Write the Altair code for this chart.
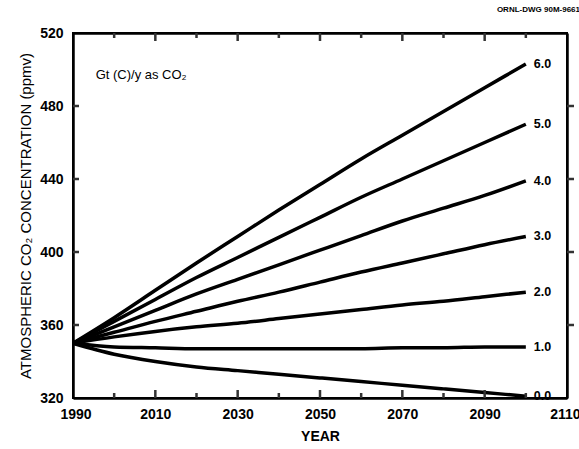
import altair as alt
import pandas as pd

years = [1990, 2000, 2010, 2020, 2030, 2040, 2050, 2060, 2070, 2080, 2090, 2100]
rates = ["6.0", "5.0", "4.0", "3.0", "2.0", "1.0", "0.0"]
co2_6 = [350, 364, 379, 394, 408.5, 423, 437, 451, 464, 477, 490, 503]
co2_5 = [350, 362, 374, 386, 397, 408, 419, 430, 440, 450, 460, 470]
co2_4 = [350, 359, 368, 377, 385, 393, 401, 409, 417, 424, 431, 439]
co2_3 = [350, 356, 362, 367.5, 373, 378, 383.5, 389, 394, 399, 404, 408.5]
co2_2 = [350, 353.5, 356.5, 359, 361, 363.5, 366, 368.5, 371, 373, 375.5, 378]
co2_1 = [350, 348, 347.5, 347, 347, 347, 347, 347, 347.5, 347.5, 348, 348]
co2_0 = [350, 344, 340, 337, 335, 333, 331, 329, 327, 325, 323, 321]
series = [co2_6, co2_5, co2_4, co2_3, co2_2, co2_1, co2_0]

x_label_values = [1990, 2010, 2030, 2050, 2070, 2090, 2110]
y_label_values = [320, 360, 400, 440, 480, 520]
x_major_ticks = [2010, 2030, 2050, 2070, 2090]
x_minor_ticks = [2000, 2020, 2040, 2060, 2080, 2100]
y_ticks = [360, 400, 440, 480]

note_year = [1995.5]
note_value = [497]
note_text = ["Gt (C)/y as CO\u2082"]

rows = []
for r, vals in zip(rates, series):
    for yr, v in zip(years, vals):
        rows.append({"year": yr, "co2": v, "rate": r})
df = pd.DataFrame(rows)
ends = df[df["year"] == 2100]

FONT = "Liberation Sans"
W, H = 494, 365
INK = "#000000"
EDGE = "#333333"

xs = alt.Scale(domain=[1990, 2110], nice=False)
ys = alt.Scale(domain=[320, 520], nice=False)

lines = alt.Chart(df).mark_line(color=INK, strokeWidth=3.5, strokeCap="butt",
                                interpolate="monotone").encode(
    x=alt.X("year:Q", scale=xs,
            axis=alt.Axis(values=x_label_values, format="d", ticks=False, grid=False,
                          domain=True, domainColor=INK, domainWidth=2.5,
                          labelFontSize=14, labelFontWeight="bold", labelPadding=9,
                          labelFlush=True, labelFlushOffset=13,
                          labelColor=INK, title="YEAR", titleFontSize=14,
                          titleFontWeight="bold", titlePadding=8, titleColor=INK)),
    y=alt.Y("co2:Q", scale=ys,
            axis=alt.Axis(values=y_label_values, ticks=False, grid=False,
                          domain=True, domainColor=INK, domainWidth=2.5,
                          labelFontSize=14, labelFontWeight="bold", labelPadding=10,
                          labelColor=INK,
                          title="ATMOSPHERIC CO\u2082  CONCENTRATION (ppmv)",
                          titleFontSize=15, titleFontWeight="normal", titlePadding=6,
                          titleColor=INK)),
    detail="rate:N",
)

end_labels = alt.Chart(ends).mark_text(align="left", dx=8, fontSize=12.5, fontWeight="bold",
                                       font=FONT, color=INK).encode(
    x=alt.X("year:Q", axis=None), y=alt.Y("co2:Q", axis=None), text="rate:N")

note = alt.Chart(pd.DataFrame({"year": note_year, "co2": note_value, "t": note_text})).mark_text(
    align="left", fontSize=13, font=FONT, color=INK).encode(
    x=alt.X("year:Q", axis=None), y=alt.Y("co2:Q", axis=None), text="t:N")

top_axis = alt.Axis(orient="top", labels=False, ticks=False, grid=False, title=None,
                    domain=True, domainColor=INK, domainWidth=2.5)
right_axis = alt.Axis(orient="right", labels=False, ticks=False, grid=False, title=None,
                      domain=True, domainColor=INK, domainWidth=2.5)

def xticks(vals, side, y1, y2, axis=None):
    d = pd.DataFrame({"year": vals, "side": [side] * len(vals)})
    return alt.Chart(d).mark_rule(color=EDGE, strokeWidth=2.5).encode(
        x=alt.X("year:Q", axis=axis), y=alt.value(y1), y2=alt.value(y2))

def yticks(vals, side, x1, x2, axis=None):
    d = pd.DataFrame({"co2": vals, "side": [side] * len(vals)})
    return alt.Chart(d).mark_rule(color=EDGE, strokeWidth=2.5).encode(
        y=alt.Y("co2:Q", axis=axis), x=alt.value(x1), x2=alt.value(x2))

chart = alt.layer(
    lines, end_labels, note,
    xticks(x_major_ticks, "bottom", H, H - 8), xticks(x_minor_ticks, "bottom", H, H - 5),
    xticks(x_major_ticks, "top", 0, 8, top_axis), xticks(x_minor_ticks, "top", 0, 5),
    yticks(y_ticks, "left", 0, 6), yticks(y_ticks, "right", W, W + 7, right_axis),
).resolve_axis(x="independent", y="independent").properties(
    width=W, height=H,
    autosize="none",
    padding={"left": 73, "top": 33, "right": 12, "bottom": 51},
    title=alt.TitleParams("ORNL-DWG 90M-9661", anchor="end", fontSize=8, fontWeight="bold",
                          font=FONT, color=INK, dx=0, offset=12),
).configure(font=FONT).configure_view(stroke=INK, strokeWidth=2)

chart.save("out.html", embed_options={"renderer": "svg", "actions": False})
